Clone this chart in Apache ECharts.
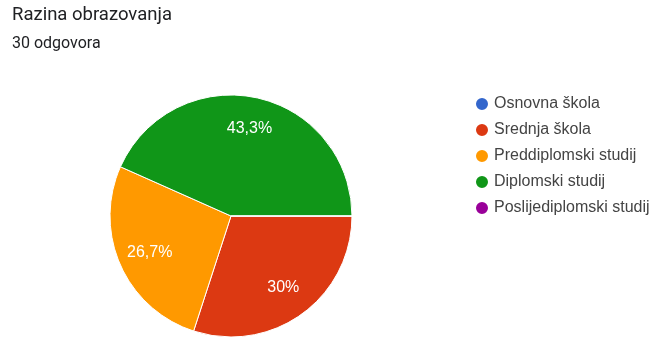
<!DOCTYPE html>
<html>
<head>
<meta charset="utf-8">
<script src="https://cdn.jsdelivr.net/npm/echarts@6/dist/echarts.min.js"></script>
<style>
  html, body { margin: 0; padding: 0; background: #fff; }
  #chart { width: 649px; height: 337px; }
</style>
</head>
<body>
<div id="chart"></div>
<script>
const categories = ['Osnovna škola', 'Srednja škola', 'Preddiplomski studij', 'Diplomski studij', 'Poslijediplomski studij'];
const counts = [0, 9, 8, 13, 0];
const colors = ['#3366cc', '#dc3912', '#ff9900', '#109618', '#990099'];
const total = counts.reduce((a, b) => a + b, 0);

const pieData = categories.map((name, i) => ({ name: name, value: counts[i], itemStyle: { color: colors[i] } }));

function pctLabel(p) {
  if (!p.value) return '';
  const v = Math.round(p.value / total * 1000) / 10;
  return String(v).replace('.', ',') + '%';
}

const chart = echarts.init(document.getElementById('chart'));
chart.setOption({
  animation: false,
  title: {
    text: 'Razina obrazovanja',
    subtext: total + ' odgovora',
    left: 7,
    top: 1,
    itemGap: 11,
    textStyle: { fontFamily: 'Roboto', fontSize: 18.5, fontWeight: 'normal', color: '#202124' },
    subtextStyle: { fontFamily: 'Roboto', fontSize: 16, color: '#202124' }
  },
  legend: {
    orient: 'vertical',
    left: 469,
    top: 91,
    icon: 'circle',
    itemWidth: 14,
    itemHeight: 14,
    itemGap: 10,
    data: categories,
    textStyle: { fontFamily: 'Liberation Sans', fontSize: 16, lineHeight: 15, color: '#444' }
  },
  series: [
    {
      type: 'pie',
      center: [231, 216],
      radius: [0, 121],
      startAngle: 0,
      clockwise: true,
      data: pieData,
      itemStyle: { borderColor: '#fff', borderWidth: 1 },
      label: { show: false },
      labelLine: { show: false },
      emphasis: { disabled: true }
    },
    {
      type: 'pie',
      center: [231, 216],
      radius: [51, 121],
      startAngle: 0,
      clockwise: true,
      silent: true,
      data: pieData.map(d => ({ name: d.name, value: d.value, itemStyle: { color: 'rgba(0,0,0,0)' } })),
      label: {
        show: true,
        position: 'inside',
        formatter: pctLabel,
        color: '#fff',
        fontFamily: 'Liberation Sans',
        fontSize: 16
      },
      labelLine: { show: false },
      emphasis: { disabled: true }
    }
  ]
});
</script>
</body>
</html>
